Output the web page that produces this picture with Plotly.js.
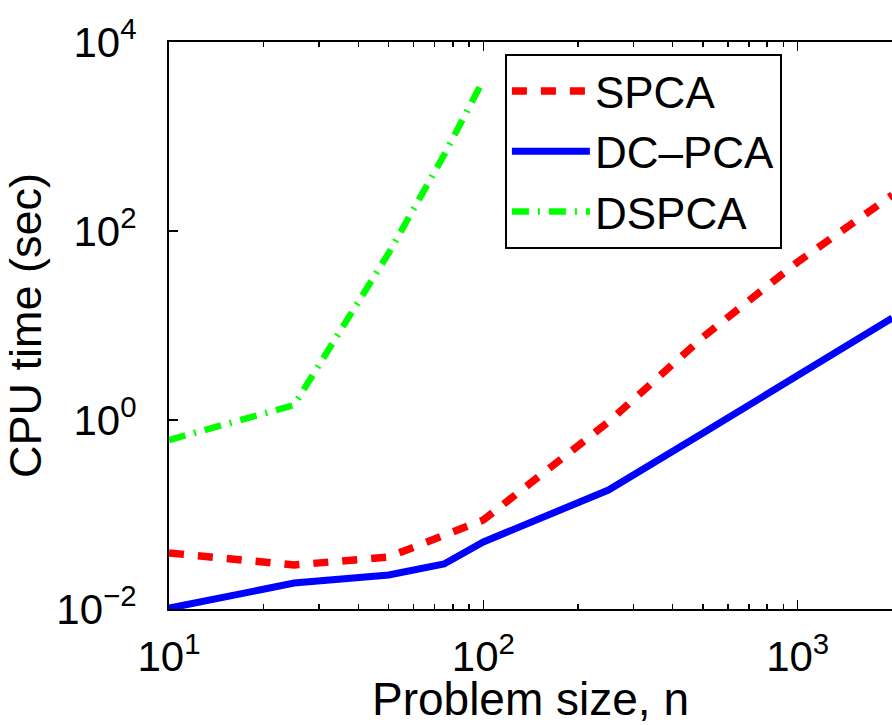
<!DOCTYPE html>
<html>
<head>
<meta charset="utf-8">
<script src="https://cdn.plot.ly/plotly-3.0.1.min.js"></script>
<style>html,body{margin:0;padding:0;background:#fff;}#chart{width:892px;height:725px;}</style>
</head>
<body>
<div id="chart"></div>
<script>
// Problem sizes
const n = [10, 25, 50, 75, 100, 250, 500, 1000, 2000];
const nDSPCA = [10, 25, 50, 75, 100];
// CPU time (sec)
const spca = [0.0392, 0.0292, 0.0355, 0.0607, 0.0875, 0.953, 7.55, 47, 240];
const dcpca = [0.0102, 0.0188, 0.0229, 0.0299, 0.0512, 0.1815, 0.728, 2.99, 12];
const dspca = [0.614, 1.44, 58.5, 637, 3960];

const seriesNames = ['SPCA', 'DC\u2013PCA', 'DSPCA'];
const xTickVals = [10, 100, 1000];
const xTickText = ['10<sup>1</sup>', '10<sup>2</sup>', '10<sup>3</sup>'];
const xMinorVals = [20,30,40,50,60,70,80,90,200,300,400,500,600,700,800,900];
const yTickVals = [0.01, 1, 100, 10000];
const yTickText = ['10<sup>\u22122</sup>', '10<sup>0</sup>', '10<sup>2</sup>', '10<sup>4</sup>'];

const FONT = 'Liberation Sans, Arial, Helvetica, sans-serif';

const traces = [
  {x: n, y: spca, name: seriesNames[0], mode: 'lines',
   line: {color: '#ff0000', width: 7.5, dash: '15px,14px'}},
  {x: n, y: dcpca, name: seriesNames[1], mode: 'lines',
   line: {color: '#0000ff', width: 7}},
  {x: nDSPCA, y: dspca, name: seriesNames[2], mode: 'lines',
   line: {color: '#00ff00', width: 6.5, dash: '17px,9px,2px,9px'}}
];

const layout = {
  width: 892, height: 725,
  margin: {l: 169, r: 0, t: 42, b: 116, pad: 0},
  paper_bgcolor: '#fff', plot_bgcolor: '#fff',
  font: {family: FONT, color: '#000', size: 42},
  showlegend: true,
  legend: {
    x: 0.4646, y: 0.9788, xanchor: 'left', yanchor: 'top',
    bgcolor: '#fff', bordercolor: '#000', borderwidth: 2,
    font: {family: FONT, size: 44, color: '#000'},
    itemwidth: 78
  },
  xaxis: {
    type: 'log', range: [1, 3.3], autorange: false,
    showline: true, linecolor: '#000', linewidth: 2, mirror: 'ticks',
    showgrid: false, zeroline: false,
    ticks: 'inside', ticklen: 9, tickwidth: 1.5, tickcolor: '#000',
    tickmode: 'array', tickvals: xTickVals, ticktext: xTickText,
    tickfont: {family: FONT, size: 42, color: '#000'},
    ticklabelstandoff: 10,
    minor: {ticks: 'inside', ticklen: 5, tickwidth: 1.5, tickcolor: '#000', tickvals: xMinorVals, showgrid: false},
    automargin: false,
    title: {text: 'Problem size, n', font: {family: FONT, size: 46, color: '#000'}, standoff: 17}
  },
  yaxis: {
    type: 'log', range: [-2, 4], autorange: false,
    showline: true, linecolor: '#000', linewidth: 2, mirror: false,
    showgrid: false, zeroline: false,
    ticks: 'inside', ticklen: 9, tickwidth: 1.5, tickcolor: '#000',
    tickmode: 'array', tickvals: yTickVals, ticktext: yTickText,
    tickfont: {family: FONT, size: 42, color: '#000'},
    ticklabelstandoff: 22,
    automargin: false,
    title: {text: 'CPU time (sec)', font: {family: FONT, size: 45, color: '#000'}, standoff: 2}
  }
};

Plotly.newPlot('chart', traces, layout, {displayModeBar: false, staticPlot: true});
</script>
</body>
</html>
